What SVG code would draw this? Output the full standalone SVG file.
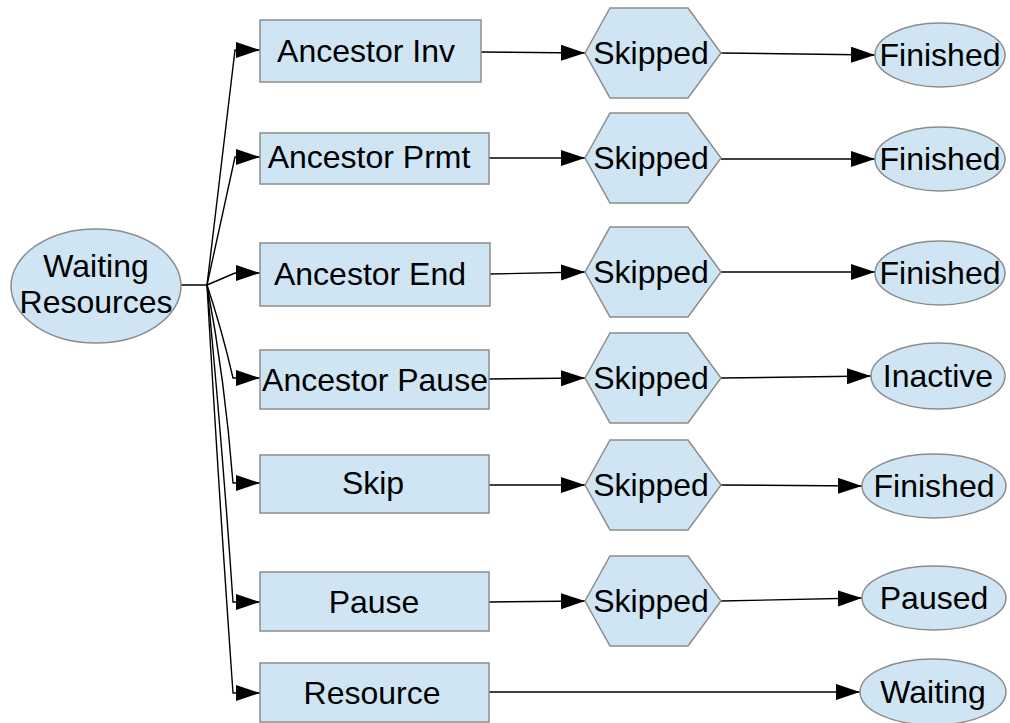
<svg xmlns="http://www.w3.org/2000/svg" width="1010" height="723" viewBox="0 0 1010 723">
  <style>
    .node { fill: #cfe5f3; stroke: #8c8c8c; stroke-width: 1.5; }
    .lbl { font-family: "Liberation Sans", Arial, sans-serif; font-size: 32px; fill: #000; text-anchor: middle; }
    .edge { fill: none; stroke: #000; stroke-width: 1.4; marker-end: url(#arrow); }
  </style>
  <defs>
    <marker id="arrow" markerUnits="userSpaceOnUse" markerWidth="26" markerHeight="18" refX="24" refY="8" orient="auto">
      <path d="M0,0 L24,8 L0,16 Z" fill="#000"/>
    </marker>
  </defs>
  <rect width="1010" height="723" fill="#fff"/>

  <!-- connectors -->
  <g id="edges">
    <!-- fan-out from the source state -->
    <path class="edge" d="M181,285 H207 L235,50 H260"/>
    <path class="edge" d="M207,285 L235,157 H260"/>
    <path class="edge" d="M207,285 L235,273 H260"/>
    <path class="edge" d="M207,285 Q222,330 233,378 H260"/>
    <path class="edge" d="M207,285 Q225,380 233,483 H260"/>
    <path class="edge" d="M207,285 Q222,440 233,602 H260"/>
    <path class="edge" d="M207,285 Q218,480 233,693 H260"/>
    <!-- reason boxes to Skipped -->
    <path class="edge" d="M481,52 L585,53"/>
    <path class="edge" d="M489,158 L585,158"/>
    <path class="edge" d="M490,274 L585,272"/>
    <path class="edge" d="M489,379 L585,378"/>
    <path class="edge" d="M489,485 L585,485"/>
    <path class="edge" d="M489,602 L585,601"/>
    <path class="edge" d="M489,692 L860,692"/>
    <!-- Skipped to final states -->
    <path class="edge" d="M721,53 L875,55"/>
    <path class="edge" d="M721,159 L875,159"/>
    <path class="edge" d="M721,272 L875,272"/>
    <path class="edge" d="M721,378 L871,376"/>
    <path class="edge" d="M721,485 L862,486"/>
    <path class="edge" d="M721,601 L862,598"/>
  </g>

  <!-- source -->
  <g id="waiting-resources">
    <ellipse class="node" cx="96" cy="286" rx="85" ry="57"/>
    <text class="lbl" x="96" y="277">Waiting</text>
    <text class="lbl" x="96" y="313">Resources</text>
  </g>

  <!-- reasons -->
  <g id="ancestor-inv">
    <rect class="node" x="260" y="20" width="221" height="62"/>
    <text class="lbl" x="366" y="62">Ancestor Inv</text>
  </g>
  <g id="ancestor-prmt">
    <rect class="node" x="260" y="133" width="229" height="51"/>
    <text class="lbl" x="369" y="168">Ancestor Prmt</text>
  </g>
  <g id="ancestor-end">
    <rect class="node" x="260" y="243" width="230" height="63"/>
    <text class="lbl" x="370" y="285">Ancestor End</text>
  </g>
  <g id="ancestor-pause">
    <rect class="node" x="260" y="350" width="229" height="59"/>
    <text class="lbl" x="375" y="391">Ancestor Pause</text>
  </g>
  <g id="skip">
    <rect class="node" x="260" y="455" width="229" height="58"/>
    <text class="lbl" x="373" y="494">Skip</text>
  </g>
  <g id="pause">
    <rect class="node" x="260" y="572" width="229" height="59"/>
    <text class="lbl" x="374" y="613">Pause</text>
  </g>
  <g id="resource">
    <rect class="node" x="260" y="663" width="229" height="59"/>
    <text class="lbl" x="372" y="704">Resource</text>
  </g>

  <!-- Skipped states -->
  <g id="skipped-1">
    <polygon class="node" points="585,53 610,8 688,8 721,53 688,98 610,98"/>
    <text class="lbl" x="651" y="64">Skipped</text>
  </g>
  <g id="skipped-2">
    <polygon class="node" points="585,158 610,113 688,113 721,158 688,203 610,203"/>
    <text class="lbl" x="651" y="169">Skipped</text>
  </g>
  <g id="skipped-3">
    <polygon class="node" points="585,272 610,227 688,227 721,272 688,317 610,317"/>
    <text class="lbl" x="651" y="283">Skipped</text>
  </g>
  <g id="skipped-4">
    <polygon class="node" points="585,378 610,333 688,333 721,378 688,423 610,423"/>
    <text class="lbl" x="651" y="389">Skipped</text>
  </g>
  <g id="skipped-5">
    <polygon class="node" points="585,485 610,440 688,440 721,485 688,530 610,530"/>
    <text class="lbl" x="651" y="496">Skipped</text>
  </g>
  <g id="skipped-6">
    <polygon class="node" points="585,601 610,556 688,556 721,601 688,646 610,646"/>
    <text class="lbl" x="651" y="612">Skipped</text>
  </g>

  <!-- final states -->
  <g id="finished-1">
    <ellipse class="node" cx="940" cy="55" rx="65" ry="32"/>
    <text class="lbl" x="940" y="66">Finished</text>
  </g>
  <g id="finished-2">
    <ellipse class="node" cx="940" cy="159" rx="65" ry="32"/>
    <text class="lbl" x="940" y="170">Finished</text>
  </g>
  <g id="finished-3">
    <ellipse class="node" cx="940" cy="273" rx="65" ry="32"/>
    <text class="lbl" x="940" y="284">Finished</text>
  </g>
  <g id="inactive">
    <ellipse class="node" cx="938" cy="376" rx="67" ry="33"/>
    <text class="lbl" x="938" y="387">Inactive</text>
  </g>
  <g id="finished-5">
    <ellipse class="node" cx="934" cy="486" rx="72" ry="32"/>
    <text class="lbl" x="934" y="497">Finished</text>
  </g>
  <g id="paused">
    <ellipse class="node" cx="934" cy="598" rx="72" ry="32"/>
    <text class="lbl" x="934" y="609">Paused</text>
  </g>
  <g id="waiting">
    <ellipse class="node" cx="933" cy="692" rx="73" ry="33"/>
    <text class="lbl" x="933" y="703">Waiting</text>
  </g>
</svg>
